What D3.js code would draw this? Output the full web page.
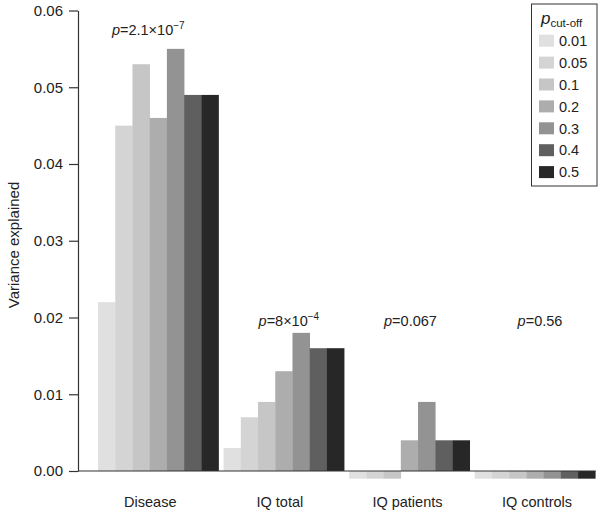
<!DOCTYPE html>
<html>
<head>
<meta charset="utf-8">
<script src="https://cdn.jsdelivr.net/npm/d3@7"></script>
<style>
  body { margin: 0; background: #fff; }
  svg { display: block; font-family: "Liberation Sans", Arial, Helvetica, sans-serif; }
</style>
</head>
<body>
<svg id="chart" width="601" height="515"></svg>
<script>
// ---- data ----
const groups = ["Disease", "IQ total", "IQ patients", "IQ controls"];
const cutoffs = ["0.01", "0.05", "0.1", "0.2", "0.3", "0.4", "0.5"];
const disease    = [0.022, 0.045, 0.053, 0.046, 0.055, 0.049, 0.049];
const iqTotal    = [0.003, 0.007, 0.009, 0.013, 0.018, 0.016, 0.016];
const iqPatients = [-0.001, -0.001, -0.001, 0.004, 0.009, 0.004, 0.004];
const iqControls = [-0.001, -0.001, -0.001, -0.001, -0.001, -0.001, -0.001];
const pBase = ["2.1×10", "8×10", "0.067", "0.56"];
const pExp  = ["−7", "−4", "", ""];
const yTicks = [0, 0.01, 0.02, 0.03, 0.04, 0.05, 0.06];
const colors = ["#e0e0e0", "#d4d4d4", "#c6c6c6", "#adadad", "#939393", "#5f5f5f", "#272727"];

const seriesByGroup = [disease, iqTotal, iqPatients, iqControls];

const svg = d3.select("#chart");

const axisX = 78;
const y = d3.scaleLinear().domain([0, 0.06]).range([471, 10.5]);
const x0 = d3.scaleBand().domain(groups).range([95.5, 597.8]).paddingInner(0.04).paddingOuter(0.02);
const x1 = d3.scaleBand().domain(cutoffs).range([0, x0.bandwidth()]).padding(0);
const color = d3.scaleOrdinal().domain(cutoffs).range(colors);

// bars
const g = svg.append("g");
groups.forEach((grp, gi) => {
  const vals = seriesByGroup[gi];
  g.append("g")
    .attr("transform", `translate(${x0(grp)},0)`)
    .selectAll("rect")
    .data(cutoffs.map((c, i) => ({ c, v: vals[i] })))
    .join("rect")
    .attr("x", d => x1(d.c))
    .attr("width", x1.bandwidth() + 0.3)
    .attr("y", d => Math.min(y(d.v), y(0)))
    .attr("height", d => Math.abs(y(d.v) - y(0)))
    .attr("fill", d => color(d.c));
});

// y axis
const yAxis = svg.append("g")
  .attr("transform", `translate(${axisX},0)`)
  .call(d3.axisLeft(y).tickValues(yTicks).tickFormat(d3.format(".2f")).tickSize(9).tickPadding(6).tickSizeOuter(0));
yAxis.select(".domain").attr("stroke", "#333").attr("stroke-width", 1.2);
yAxis.selectAll(".tick line").attr("stroke", "#333").attr("stroke-width", 1.2);
yAxis.selectAll(".tick text").attr("font-size", 15).attr("fill", "#222")
  .attr("font-family", "'Liberation Sans', Arial, sans-serif");

// x baseline
svg.append("line")
  .attr("x1", axisX).attr("x2", x0.range()[1] - 2)
  .attr("y1", y(0)).attr("y2", y(0))
  .attr("stroke", "#333").attr("stroke-width", 1.2);

// category labels
const labelShift = [-8, -4, -2, 2];
svg.append("g").selectAll("text")
  .data(groups)
  .join("text")
  .attr("x", (d, i) => x0(d) + x0.bandwidth() / 2 + labelShift[i])
  .attr("y", 507)
  .attr("text-anchor", "middle")
  .attr("font-size", 14.5)
  .attr("fill", "#222")
  .text(d => d);

// y title
svg.append("text")
  .attr("transform", `translate(19,245) rotate(-90)`)
  .attr("text-anchor", "middle")
  .attr("font-size", 15)
  .attr("fill", "#222")
  .text("Variance explained");

// p-value annotations
const annY = [35, 326, 326, 326];
const annShift = [-10, 5, 1, 5];
groups.forEach((grp, gi) => {
  const t = svg.append("text")
    .attr("x", x0(grp) + x0.bandwidth() / 2 + annShift[gi])
    .attr("y", annY[gi])
    .attr("text-anchor", "middle")
    .attr("font-size", 14.5)
    .attr("fill", "#222");
  t.append("tspan").attr("font-style", "italic").text("p");
  t.append("tspan").text("=" + pBase[gi]);
  if (pExp[gi]) {
    t.append("tspan").attr("dy", -6).attr("font-size", 10).text(pExp[gi]);
  }
});

// legend
const lg = svg.append("g");
lg.append("rect")
  .attr("x", 531.5).attr("y", 4).attr("width", 65.5).attr("height", 182)
  .attr("fill", "#fff").attr("stroke", "#333").attr("stroke-width", 1);
const title = lg.append("text").attr("x", 541).attr("y", 24).attr("fill", "#222");
title.append("tspan").attr("font-style", "italic").attr("font-size", 17).text("p");
title.append("tspan").attr("dy", 3).attr("font-size", 11.5).text("cut-off");

const rows = lg.selectAll("g.row")
  .data(cutoffs)
  .join("g")
  .attr("class", "row")
  .attr("transform", (d, i) => `translate(0,${40.7 + i * 21.9})`);
rows.append("rect")
  .attr("x", 539).attr("y", -6).attr("width", 15).attr("height", 12)
  .attr("fill", d => color(d));
rows.append("text")
  .attr("x", 559).attr("y", 0).attr("dy", "0.36em")
  .attr("font-size", 14.5).attr("fill", "#222")
  .text(d => d);
</script>
</body>
</html>
